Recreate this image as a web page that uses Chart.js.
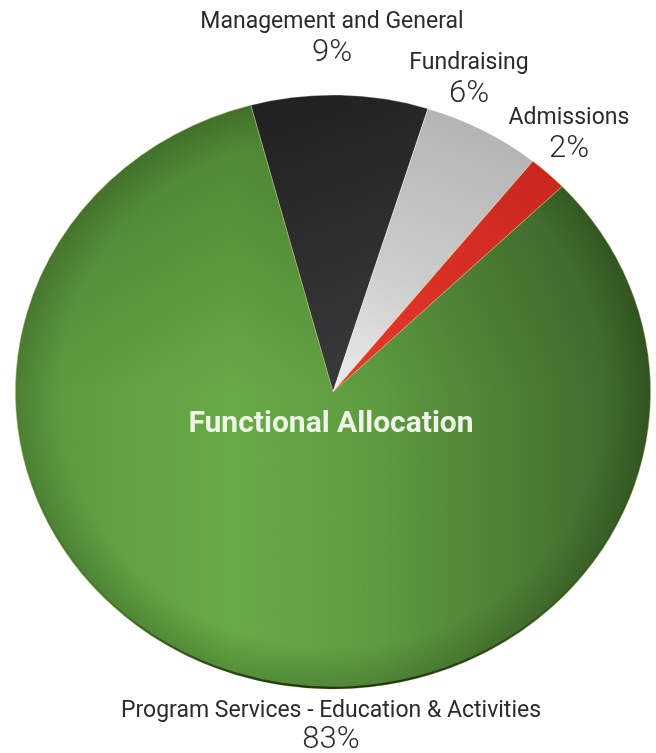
<!DOCTYPE html>
<html>
<head>
<meta charset="utf-8">
<script src="https://cdn.jsdelivr.net/npm/chart.js@4"></script>
<style>
  html, body { margin: 0; padding: 0; background: #ffffff; }
  #wrap { position: relative; width: 656px; height: 753px; }
</style>
</head>
<body>
<div id="wrap"><canvas id="c"></canvas></div>
<script>
// ---- data ----
const categories = ['Management and General', 'Fundraising', 'Admissions', 'Program Services - Education & Activities'];
const values = [9, 6, 2, 83];
const percentLabels = ['9%', '6%', '2%', '83%'];
const centerTitle = 'Functional Allocation';

// ---- layout / style (kept apart from data) ----
const SQUASH = 0.935;            // vertical squash of the pie (perspective look)
const labelLayout = [            // [x, nameY, pctY]
  [332, 22, 53],
  [469, 63, 94],
  [569, 118, 149],
  [331, 711, 740]
];

let greenPattern = null;
let greenKey = '';
function makeGreen(chart, area) {
  const key = area.left + ',' + area.top + ',' + area.width + ',' + area.height;
  if (greenPattern && greenKey === key) return greenPattern;
  const W = chart.width, H = chart.height;
  const off = document.createElement('canvas');
  off.width = W; off.height = H;
  const o = off.getContext('2d');
  const L = area.left, R = area.right, w = area.width;
  const cx = (area.left + area.right) / 2, cy = (area.top + area.bottom) / 2;
  const r = Math.min(area.width, area.height) / 2;
  // horizontal shading
  let g = o.createLinearGradient(L, 0, R, 0);
  g.addColorStop(0, '#5a983f');
  g.addColorStop(0.34, '#66aa45');
  g.addColorStop(0.57, '#5e9b41');
  g.addColorStop(0.76, '#4f8237');
  g.addColorStop(0.92, '#426e2e');
  g.addColorStop(1, '#3a6027');
  o.fillStyle = g;
  o.fillRect(0, 0, W, H);
  // darker towards the top
  g = o.createLinearGradient(0, cy - r, 0, cy);
  g.addColorStop(0, 'rgba(35,65,22,0.38)');
  g.addColorStop(1, 'rgba(35,65,22,0)');
  o.fillStyle = g;
  o.fillRect(0, 0, W, H);
  // edge vignette
  g = o.createRadialGradient(cx, cy, 0, cx, cy, r);
  g.addColorStop(0, 'rgba(20,40,10,0)');
  g.addColorStop(0.86, 'rgba(20,40,10,0)');
  g.addColorStop(1, 'rgba(20,40,10,0.22)');
  o.fillStyle = g;
  o.fillRect(0, 0, W, H);
  greenPattern = o.createPattern ? chart.ctx.createPattern(off, 'no-repeat') : '#5a9640';
  greenKey = key;
  return greenPattern;
}

function sliceFill(ctx) {
  const chart = ctx.chart;
  const area = chart.chartArea;
  const c = chart.ctx;
  if (!area) return '#5a9640';
  const cx = (area.left + area.right) / 2, cy = (area.top + area.bottom) / 2;
  const r = Math.min(area.width, area.height) / 2;
  const i = ctx.dataIndex;
  let g;
  if (i === 0) {
    g = c.createLinearGradient(cx - 0.2 * r, cy - r, cx + 0.2 * r, cy);
    g.addColorStop(0, '#202020');
    g.addColorStop(1, '#3c3c3e');
    return g;
  }
  if (i === 1) {
    g = c.createLinearGradient(cx + 0.45 * r, cy - r, cx, cy);
    g.addColorStop(0, '#b0b0b0');
    g.addColorStop(0.6, '#cdcdcd');
    g.addColorStop(1, '#ececec');
    return g;
  }
  if (i === 2) {
    g = c.createLinearGradient(cx + 0.7 * r, cy - 0.75 * r, cx, cy);
    g.addColorStop(0, '#c9271f');
    g.addColorStop(1, '#e8382c');
    return g;
  }
  return makeGreen(chart, area);
}

const squashPlugin = {
  id: 'squash',
  beforeDatasetsDraw(chart) {
    const m = chart.getDatasetMeta(0).data[0];
    const c = chart.ctx;
    c.save();
    c.translate(m.x, m.y);
    c.scale(1, SQUASH);
    c.translate(-m.x, -m.y);
  },
  afterDatasetsDraw(chart) {
    const m = chart.getDatasetMeta(0).data[0];
    const c = chart.ctx;
    // soft dark rim along the lower edge
    const g = c.createLinearGradient(0, m.y, 0, m.y + m.outerRadius);
    g.addColorStop(0, 'rgba(20,40,10,0)');
    g.addColorStop(0.7, 'rgba(20,40,10,0.15)');
    g.addColorStop(1, 'rgba(10,25,5,0.75)');
    c.beginPath();
    c.arc(m.x, m.y, m.outerRadius - 1.2, 0.1 * Math.PI, 0.9 * Math.PI);
    c.strokeStyle = g;
    c.lineWidth = 2.4;
    c.stroke();
    c.restore();
  }
};

const textPlugin = {
  id: 'texts',
  afterDraw(chart) {
    const c = chart.ctx;
    const m = chart.getDatasetMeta(0).data[0];
    c.save();
    c.textAlign = 'center';
    c.textBaseline = 'middle';
    categories.forEach((name, i) => {
      const [x, ny, py] = labelLayout[i];
      c.fillStyle = '#2b2b2b';
      c.font = '400 23px Roboto, "Open Sans", sans-serif';
      c.fillText(name, x, ny);
      c.font = '300 31px Roboto, "Open Sans", sans-serif';
      c.fillText(percentLabels[i], x, py);
    });
    c.fillStyle = '#eef4e8';
    c.font = '700 30px Roboto, "Open Sans", sans-serif';
    c.fillText(centerTitle, m.x - 2, m.y + 32);
    c.restore();
  }
};

new Chart(document.getElementById('c'), {
  type: 'pie',
  data: {
    labels: categories,
    datasets: [{
      data: values,
      backgroundColor: sliceFill,
      borderColor: ['rgba(255,255,255,0.35)', 'rgba(255,255,255,0.6)', 'rgba(230,200,120,0.7)', 'rgba(200,190,110,0.6)'],
      borderWidth: 0.8,
      hoverOffset: 0
    }]
  },
  options: {
    responsive: true,
    maintainAspectRatio: false,
    devicePixelRatio: 1,
    animation: false,
    rotation: -15,
    layout: { padding: { left: 15, right: 5, top: 74, bottom: 43 } },
    plugins: {
      legend: { display: false },
      tooltip: { enabled: false },
      title: { display: false }
    }
  },
  plugins: [squashPlugin, textPlugin]
});
</script>
</body>
</html>
